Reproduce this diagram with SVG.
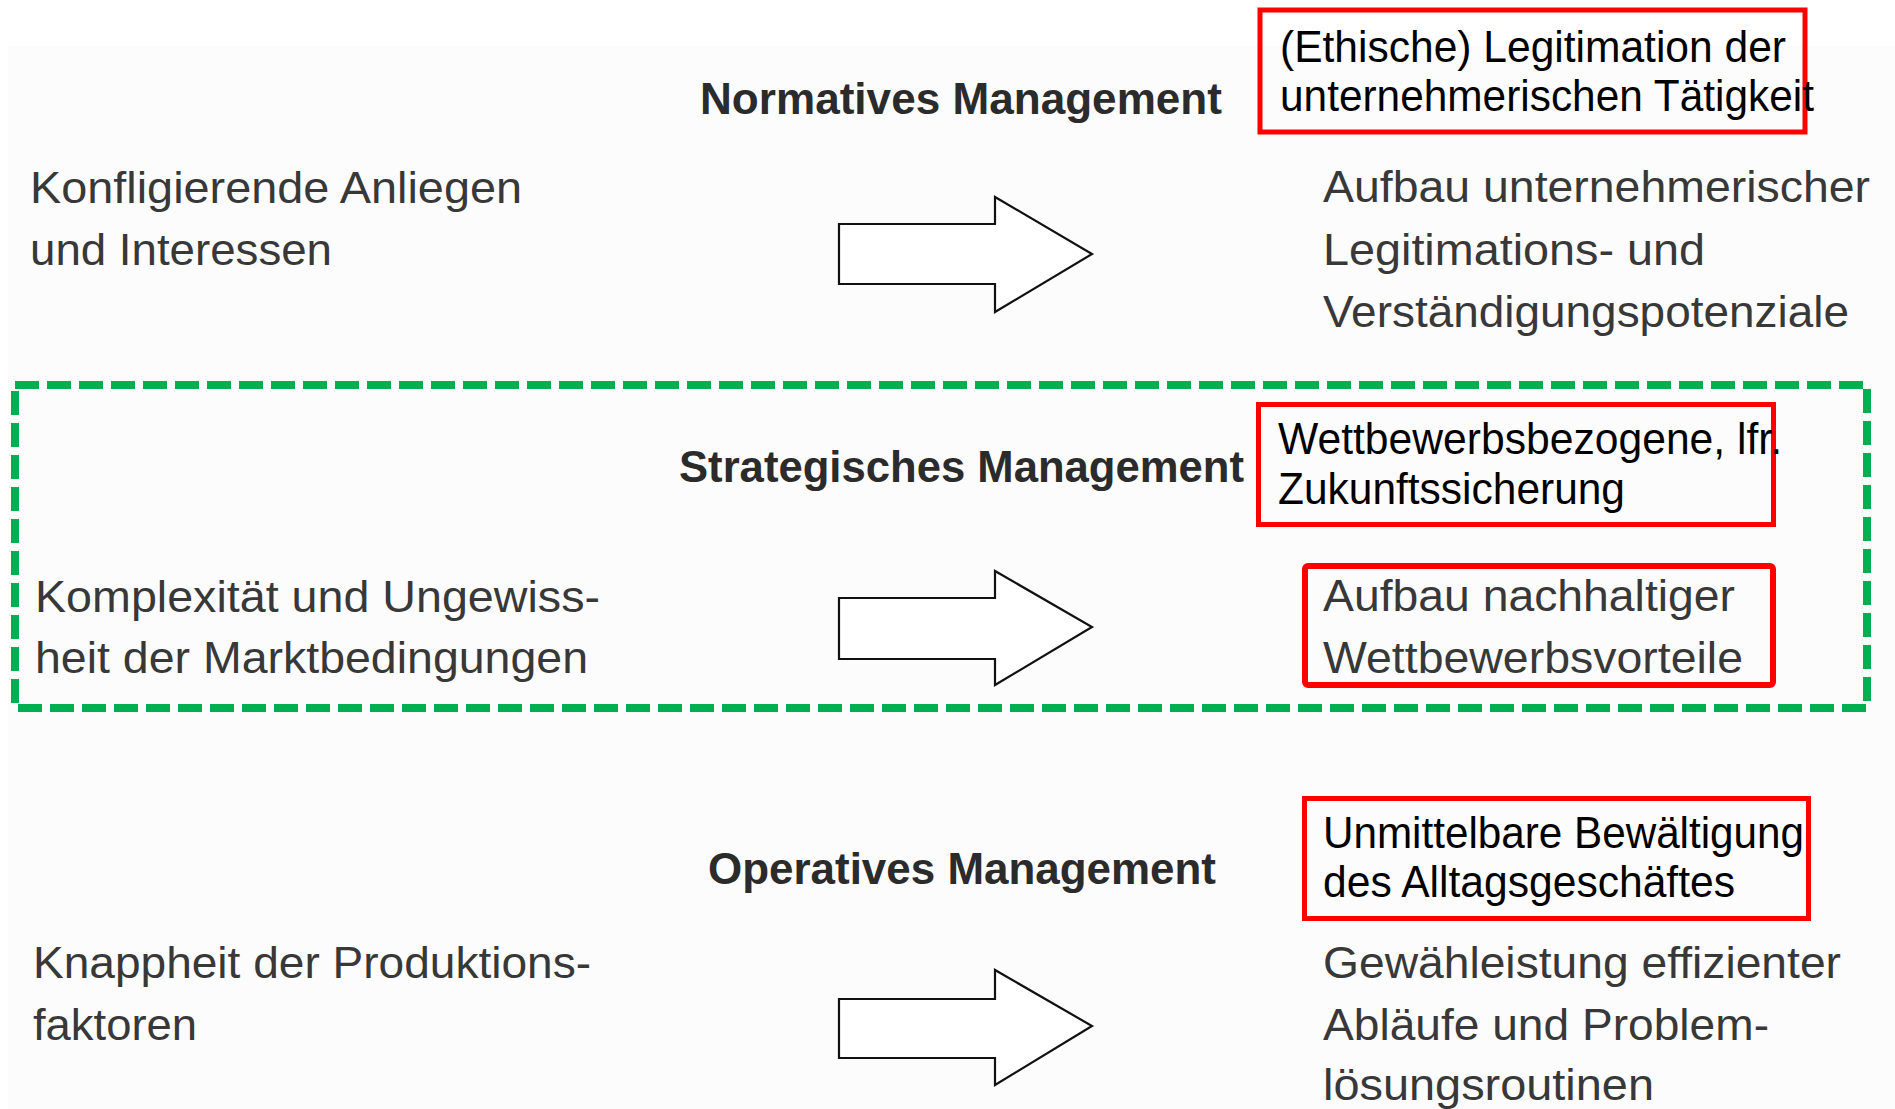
<svg xmlns="http://www.w3.org/2000/svg" width="1895" height="1109" viewBox="0 0 1895 1109">
  <style>
    .hdr { font-family: "Liberation Sans Narrow", "Liberation Sans", Arial, sans-serif; font-weight: bold; font-size: 45px; fill: #2b2b2b; }
    .txt { font-family: "Liberation Sans Narrow", "Liberation Sans", Arial, sans-serif; font-size: 45px; fill: #383838; }
    .note { font-family: "Liberation Sans", Arial, sans-serif; font-size: 45px; fill: #000000; }
    .redbox { fill: none; stroke: #ff0000; stroke-width: 5; }
    .arrow { fill: #ffffff; stroke: #111111; stroke-width: 2.2; stroke-linejoin: miter; }
    .group { fill: none; stroke: #00b050; stroke-width: 8; stroke-dasharray: 24 8; }
  </style>

  <!-- page background -->
  <rect x="0" y="0" width="1895" height="1109" fill="#ffffff"/>
  <rect x="8" y="46" width="1887" height="1063" fill="#fcfcfc"/>

  <!-- strategic level highlighted with a dashed frame -->
  <rect id="strategic-frame" class="group" x="15" y="385" width="1852" height="323"/>

  <!-- Normative level -->
  <g id="normativ">
    <text class="hdr" x="700" y="114" textLength="522" lengthAdjust="spacingAndGlyphs">Normatives Management</text>
    <g id="normativ-input">
      <text class="txt" x="30" y="203" textLength="492" lengthAdjust="spacingAndGlyphs">Konfligierende Anliegen</text>
      <text class="txt" x="30" y="265" textLength="302" lengthAdjust="spacingAndGlyphs">und Interessen</text>
    </g>
    <g id="normativ-output">
      <text class="txt" x="1323" y="202" textLength="547" lengthAdjust="spacingAndGlyphs">Aufbau unternehmerischer</text>
      <text class="txt" x="1323" y="265" textLength="382" lengthAdjust="spacingAndGlyphs">Legitimations- und</text>
      <text class="txt" x="1323" y="327" textLength="526" lengthAdjust="spacingAndGlyphs">Verständigungspotenziale</text>
    </g>
    <g id="normativ-note">
      <rect class="redbox" x="1260" y="10" width="545" height="122"/>
      <text class="note" x="1280" y="62" textLength="506" lengthAdjust="spacingAndGlyphs">(Ethische) Legitimation der</text>
      <text class="note" x="1280" y="111" textLength="534" lengthAdjust="spacingAndGlyphs">unternehmerischen Tätigkeit</text>
    </g>
  </g>

  <!-- Strategic level -->
  <g id="strategisch">
    <text class="hdr" x="679" y="482" textLength="565" lengthAdjust="spacingAndGlyphs">Strategisches Management</text>
    <g id="strategisch-input">
      <text class="txt" x="35" y="612" textLength="565" lengthAdjust="spacingAndGlyphs">Komplexität und Ungewiss-</text>
      <text class="txt" x="35" y="673" textLength="553" lengthAdjust="spacingAndGlyphs">heit der Marktbedingungen</text>
    </g>
    <g id="strategisch-note">
      <rect class="redbox" x="1258.5" y="404.5" width="515" height="120"/>
      <text class="note" x="1278" y="454" textLength="504" lengthAdjust="spacingAndGlyphs">Wettbewerbsbezogene, lfr.</text>
      <text class="note" x="1278" y="504" textLength="347" lengthAdjust="spacingAndGlyphs">Zukunftssicherung</text>
    </g>
    <g id="strategisch-output">
      <rect class="redbox" x="1305" y="566" width="468" height="119" rx="3" style="stroke-width:6"/>
      <text class="txt" x="1323" y="611" textLength="412" lengthAdjust="spacingAndGlyphs">Aufbau nachhaltiger</text>
      <text class="txt" x="1323" y="673" textLength="420" lengthAdjust="spacingAndGlyphs">Wettbewerbsvorteile</text>
    </g>
  </g>

  <!-- Operative level -->
  <g id="operativ">
    <text class="hdr" x="708" y="884" textLength="508" lengthAdjust="spacingAndGlyphs">Operatives Management</text>
    <g id="operativ-input">
      <text class="txt" x="33" y="978" textLength="558" lengthAdjust="spacingAndGlyphs">Knappheit der Produktions-</text>
      <text class="txt" x="33" y="1040" textLength="164" lengthAdjust="spacingAndGlyphs">faktoren</text>
    </g>
    <g id="operativ-note">
      <rect class="redbox" x="1304.5" y="798.5" width="504" height="120"/>
      <text class="note" x="1323" y="848" textLength="481" lengthAdjust="spacingAndGlyphs">Unmittelbare Bewältigung</text>
      <text class="note" x="1323" y="897" textLength="412" lengthAdjust="spacingAndGlyphs">des Alltagsgeschäftes</text>
    </g>
    <g id="operativ-output">
      <text class="txt" x="1323" y="978" textLength="518" lengthAdjust="spacingAndGlyphs">Gewähleistung effizienter</text>
      <text class="txt" x="1323" y="1040" textLength="446" lengthAdjust="spacingAndGlyphs">Abläufe und Problem-</text>
      <text class="txt" x="1323" y="1100" textLength="331" lengthAdjust="spacingAndGlyphs">lösungsroutinen</text>
    </g>
  </g>

  <!-- block arrows from challenge to task -->
  <g id="connectors">
    <polygon class="arrow" points="839,224 995,224 995,197 1092,254 995,312 995,284 839,284"/>
    <polygon class="arrow" points="839,598 995,598 995,571 1092,627 995,685 995,659 839,659"/>
    <polygon class="arrow" points="839,999 995,999 995,970 1092,1026 995,1085 995,1058 839,1058"/>
  </g>
</svg>
